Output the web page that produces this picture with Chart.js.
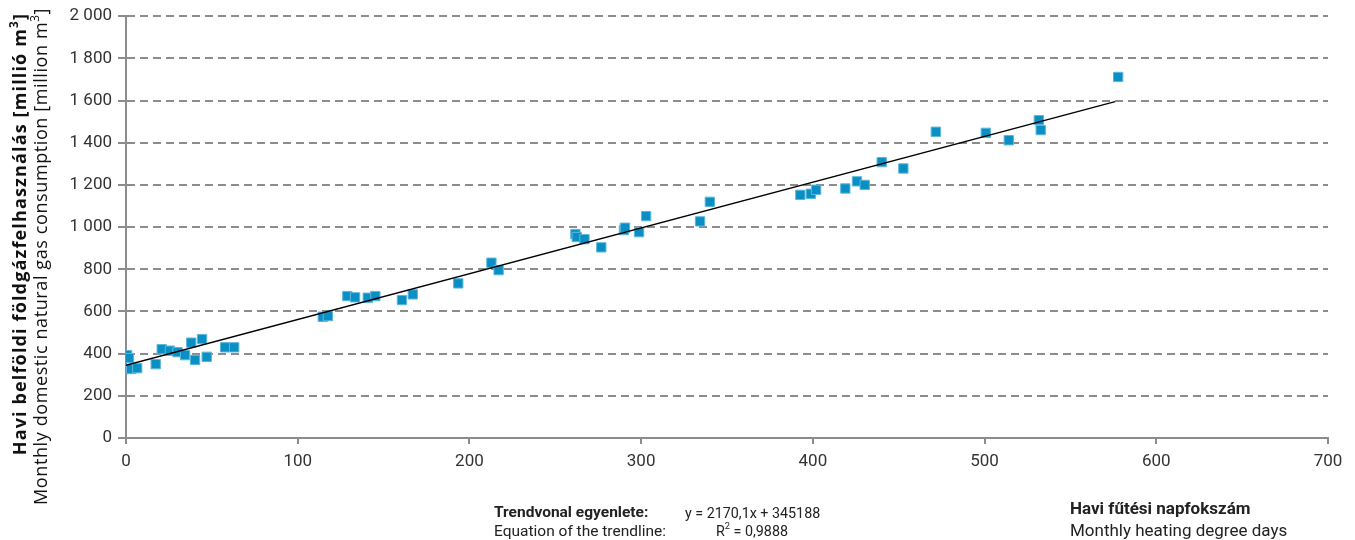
<!DOCTYPE html>
<html><head><meta charset="utf-8">
<script src="https://cdn.jsdelivr.net/npm/chart.js@4/dist/chart.umd.min.js"></script>
<style>
html,body{margin:0;padding:0;background:#fff;}
#wrap{position:relative;width:1355px;height:540px;overflow:hidden;font-family:Roboto,"DejaVu Sans",sans-serif;color:#222;}
canvas{position:absolute;left:0;top:0;}
.ytitle{position:absolute;left:0;top:0;width:540px;height:60px;transform-origin:0 0;transform:translate(0,540px) rotate(-90deg);}
.yt{position:absolute;left:0;text-align:right;white-space:nowrap;font-family:"Open Sans",Roboto,sans-serif;font-size:18px;line-height:20px;color:#111;}
.yt1{top:9px;width:527px;font-weight:700;letter-spacing:1.15px;}
.yt2{top:30px;width:532px;font-weight:400;letter-spacing:0.6px;}
.t{position:absolute;white-space:nowrap;line-height:18px;color:#222;}
sup{font-size:65%;line-height:0;position:relative;top:-1px;vertical-align:super;}
</style></head>
<body>
<div id="wrap">
<canvas id="c" width="1355" height="540"></canvas>
<div class="ytitle">
  <div class="yt yt1">Havi belföldi földgázfelhasználás [millió m<sup>3</sup>]</div>
  <div class="yt yt2">Monthly domestic natural gas consumption [million m<sup>3</sup>]</div>
</div>
<div class="t" style="left:494px;top:503px;font-size:15.5px;font-weight:700;">Trendvonal egyenlete:</div>
<div class="t" style="left:494px;top:522px;font-size:15.5px;">Equation of the trendline:</div>
<div class="t" style="left:685px;top:504px;font-size:14.3px;">y = 2170,1x + 345188</div>
<div class="t" style="left:716px;top:522px;font-size:14.3px;">R<sup>2</sup> = 0,9888</div>
<div class="t" style="left:1070px;top:499px;font-size:17px;font-weight:700;">Havi fűtési napfokszám</div>
<div class="t" style="left:1070px;top:521px;font-size:17px;">Monthly heating degree days</div>
</div>
<script>
const degreeDays = [0.6, 1.7, 3, 6.5, 17.3, 20.8, 25.6, 30, 34.4, 38, 40.2, 44.3, 47, 57.7, 63,
  114.6, 117.6, 128.9, 133.4, 140.8, 145.2, 160.7, 167, 193.5, 212.8, 217,
  261.7, 262.5, 267, 276.8, 290, 290.6, 298.8, 302.9, 334.3, 340,
  392.7, 398.8, 401.9, 418.9, 425.7, 430.2, 440.1, 452.7, 471.6, 500.7, 514.1, 531.6, 532.7, 577.8];
const gasUse = [393, 379, 327, 331, 350, 421, 414, 407, 393, 452, 370, 469, 385, 430, 430,
  575, 578, 673, 667, 665, 673, 654, 681, 733, 831, 796,
  967, 953, 943, 904, 986, 997, 976, 1052, 1027, 1120,
  1153, 1158, 1177, 1183, 1217, 1200, 1308, 1278, 1452, 1447, 1412, 1507, 1460, 1712];
const trendX = [0, 576];
const trendY = [345, 1595];
const yTicks = [0, 200, 400, 600, 800, 1000, 1200, 1400, 1600, 1800, 2000];
const xTicks = [0, 100, 200, 300, 400, 500, 600, 700];

const pts = degreeDays.map((x, i) => ({x, y: gasUse[i]}));
const trend = trendX.map((x, i) => ({x, y: trendY[i]}));
const fmt = v => { const s = String(Math.round(v)); return s.length > 3 ? s.slice(0, s.length - 3) + ' ' + s.slice(-3) : s; };
const tickFont = {family: 'Roboto', size: 17, weight: '400'};

new Chart(document.getElementById('c'), {
  type: 'scatter',
  data: {
    datasets: [
      {data: pts, pointStyle: 'rect', pointRadius: 6.6, pointHoverRadius: 6.6,
       backgroundColor: '#0a8fc4', borderColor: '#5db7dc', borderWidth: 1, order: 2},
      {type: 'line', data: trend, showLine: true, borderColor: '#000', borderWidth: 1.5,
       pointRadius: 0, fill: false, order: 1}
    ]
  },
  options: {
    responsive: false, animation: false, devicePixelRatio: 1,
    layout: {padding: {left: 0, right: 27, top: 16, bottom: 0}},
    plugins: {legend: {display: false}, tooltip: {enabled: false}},
    scales: {
      x: {
        type: 'linear', min: 0, max: 700,
        afterBuildTicks: s => { s.ticks = xTicks.map(v => ({value: v})); },
        afterFit: s => { s.height = 102; },
        ticks: {font: tickFont, color: '#333', padding: 8, maxRotation: 0},
        grid: {drawOnChartArea: false, drawTicks: true, tickLength: 6, color: '#8c8c8c', lineWidth: 2},
        border: {display: true, color: '#8c8c8c', width: 2}
      },
      y: {
        type: 'linear', min: 0, max: 2000,
        afterBuildTicks: s => { s.ticks = yTicks.map(v => ({value: v})); },
        afterFit: s => { s.width = 126; },
        ticks: {font: tickFont, color: '#333', padding: 6, callback: v => fmt(v)},
        grid: {drawOnChartArea: true, drawTicks: true, tickLength: 8, color: '#8c8c8c', lineWidth: 2, tickBorderDash: [0, 0]},
        border: {display: true, color: '#8c8c8c', width: 2, dash: [8, 5]}
      }
    }
  }
});
</script>
</body></html>
